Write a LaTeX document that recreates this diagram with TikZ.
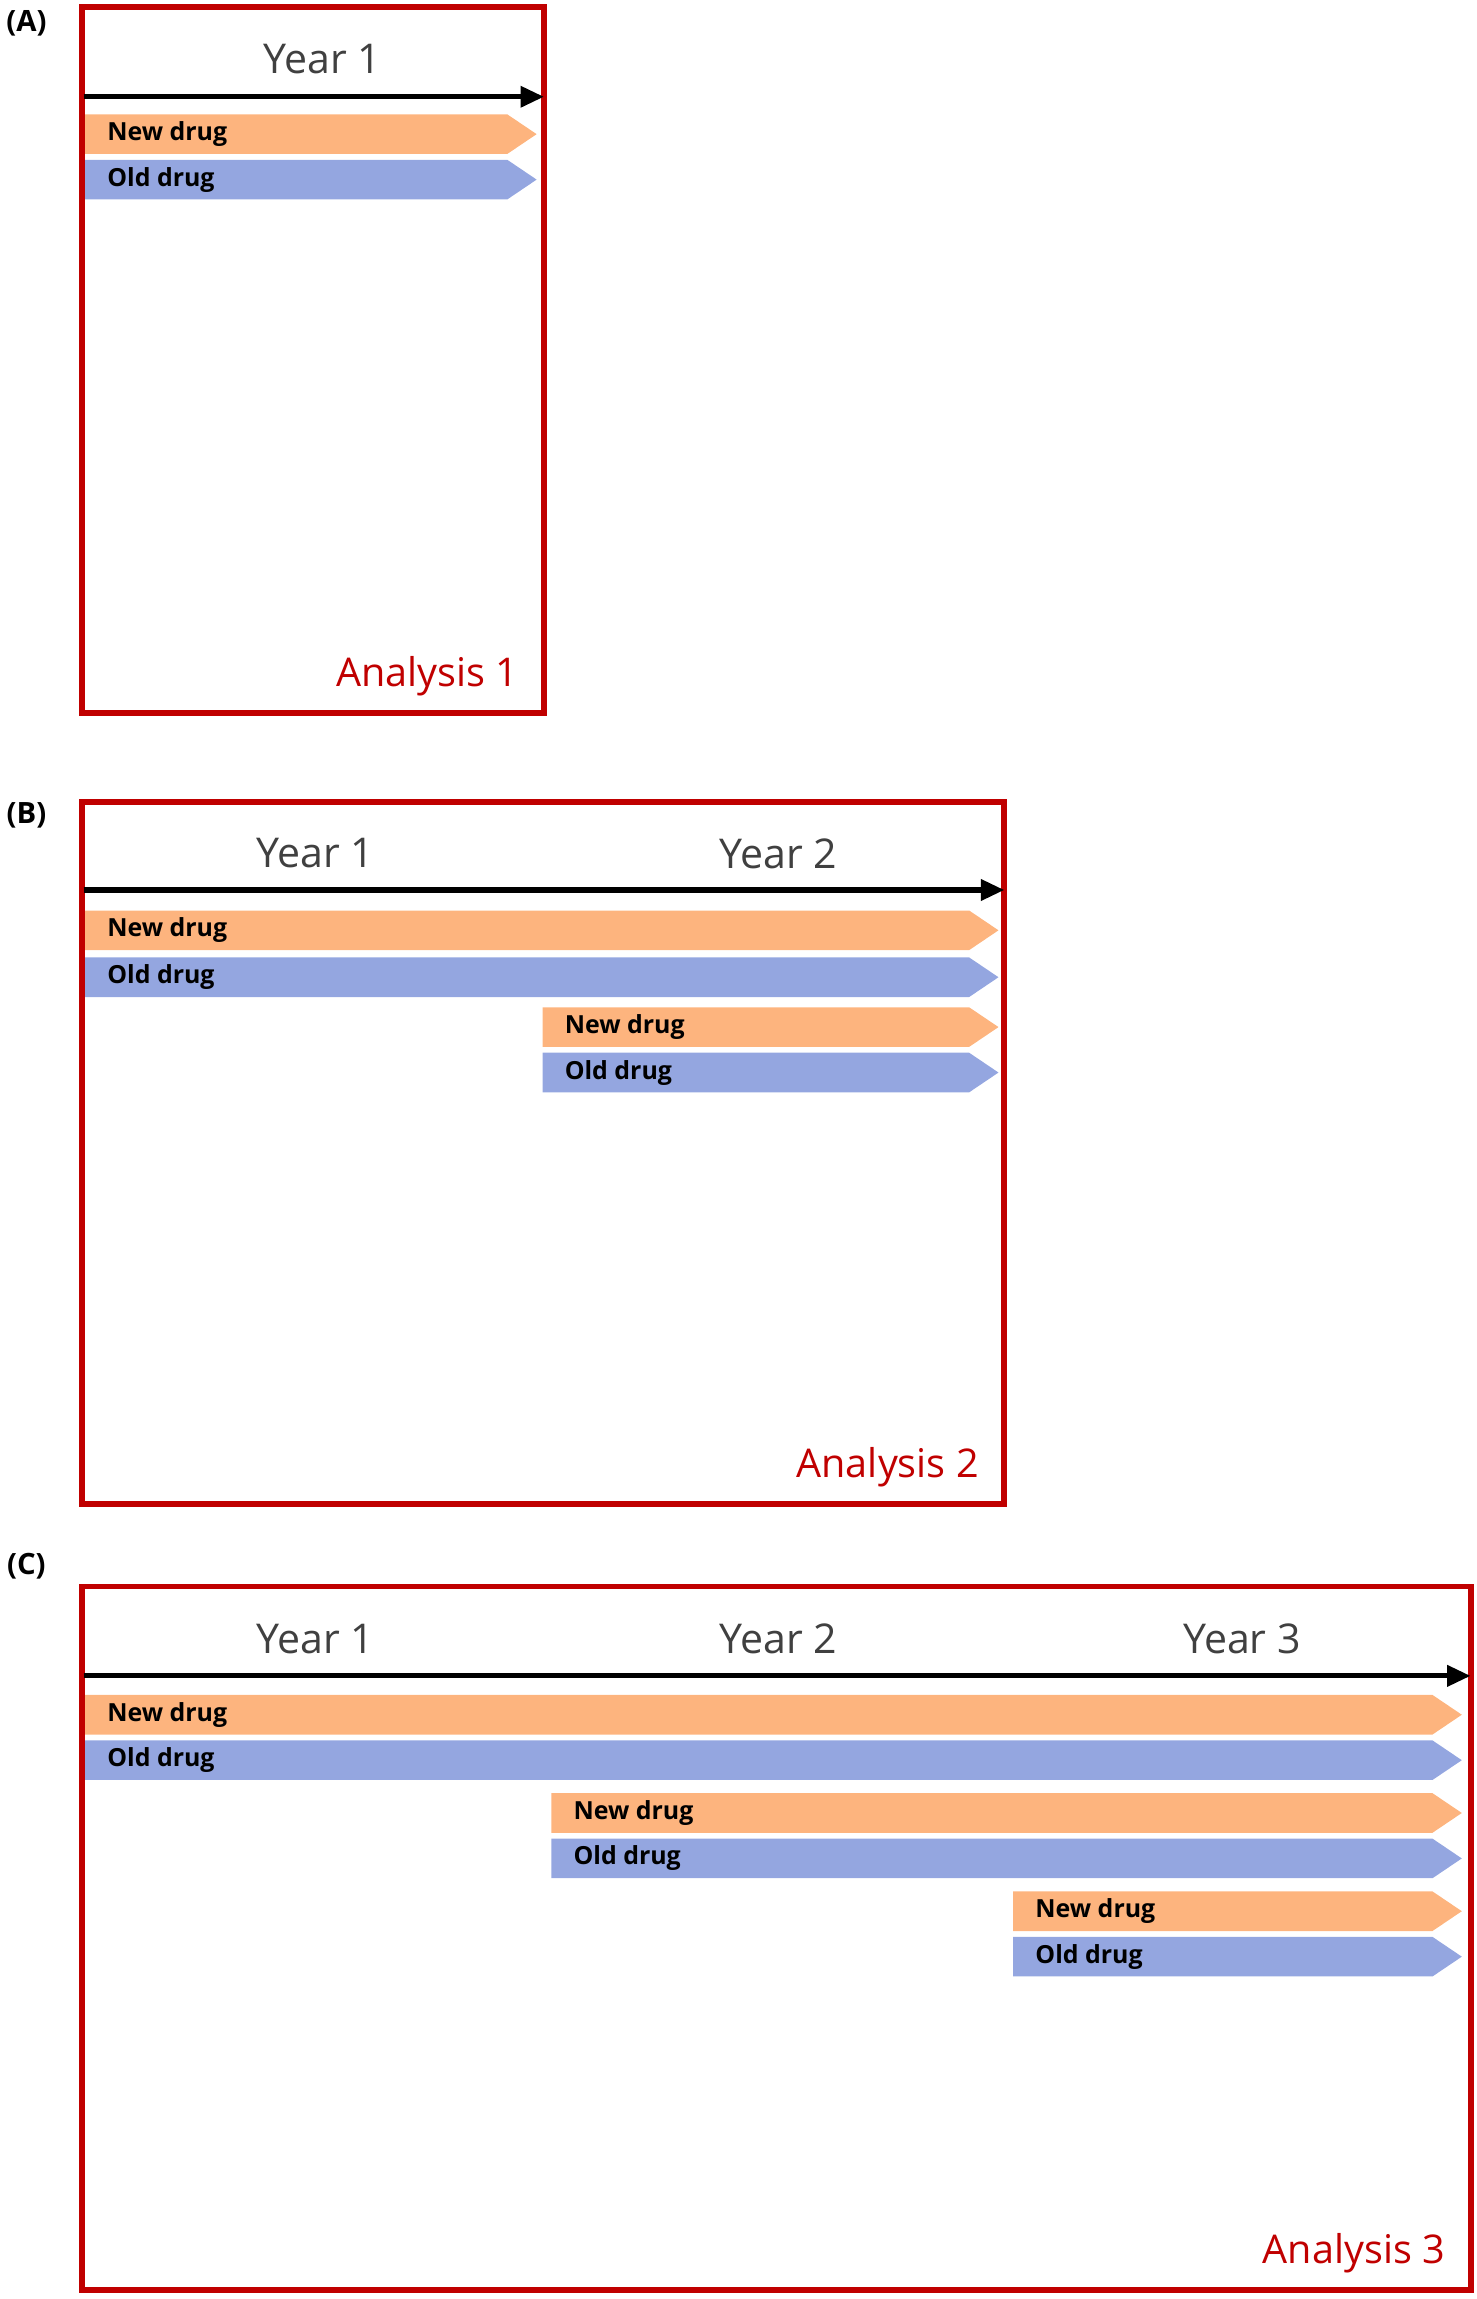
\documentclass[tikz,border=0pt]{standalone}
\usepackage{fontspec}
\setmainfont{Open Sans}
\usetikzlibrary{arrows.meta}
\definecolor{newc}{HTML}{FDB47E}
\definecolor{oldc}{HTML}{94A6E0}
\definecolor{boxred}{HTML}{C00000}
\definecolor{yeargray}{HTML}{404040}
\tikzset{
  panel/.style={draw=boxred,line width=4pt},
  yearlbl/.style={text=yeargray,font=\fontsize{28}{30}\selectfont},
  anal/.style={text=boxred,font=\fontsize{27}{29}\selectfont,anchor=south east},
  tag/.style={font=\fontsize{20}{22}\selectfont\bfseries},
  timeline/.style={line width=3.5pt,-{Triangle[length=16pt,width=14pt]}},
  barlbl/.style={font=\fontsize{17}{19}\selectfont\bfseries,anchor=west,inner sep=0pt}
}
\newcommand{\drugbar}[6]{% name, x1, x2, ytop, color, text
  \fill[#5] (#2,#4) -- (#3-20,#4) -- (#3,#4+13.5) -- (#3-20,#4+27) -- (#2,#4+27) -- cycle;
  \node[barlbl] (#1) at (#2+15,#4+13.5) {#6};
}
\begin{document}
\begin{tikzpicture}[x=1pt,y=-1pt]
\useasboundingbox (0,0) rectangle (1007,1568);
% Panel A
\node[tag] (tA) at (18,16) {(A)};
\draw[panel] (56,5) rectangle (371,486);
\node[yearlbl] (yA1) at (220,40) {Year 1};
\coordinate (sA) at (57,66); \coordinate (eA) at (371,66);
\draw[timeline] (sA) -- (eA);
\drugbar{nA1}{58}{366}{78}{newc}{New drug}
\drugbar{oA1}{58}{366}{109}{oldc}{Old drug}
\node[anal] (aA) at (357,478) {Analysis 1};
% Panel B
\node[tag] (tB) at (18,556) {(B)};
\draw[panel] (56,547) rectangle (685,1026);
\node[yearlbl] (yB1) at (215,582) {Year 1};
\node[yearlbl] (yB2) at (531,582) {Year 2};
\coordinate (sB) at (57,607); \coordinate (eB) at (685,607);
\draw[timeline] (sB) -- (eB);
\drugbar{nB1}{58}{681}{621}{newc}{New drug}
\drugbar{oB1}{58}{681}{653}{oldc}{Old drug}
\drugbar{nB2}{370}{681}{687}{newc}{New drug}
\drugbar{oB2}{370}{681}{718}{oldc}{Old drug}
\node[anal] (aB) at (671,1018) {Analysis 2};
% Panel C
\node[tag] (tC) at (18,1068) {(C)};
\draw[panel] (56,1082) rectangle (1003,1562);
\node[yearlbl] (yC1) at (215,1118) {Year 1};
\node[yearlbl] (yC2) at (531,1118) {Year 2};
\node[yearlbl] (yC3) at (847,1118) {Year 3};
\coordinate (sC) at (57,1143); \coordinate (eC) at (1003,1143);
\draw[timeline] (sC) -- (eC);
\drugbar{nC1}{58}{997}{1156}{newc}{New drug}
\drugbar{oC1}{58}{997}{1187}{oldc}{Old drug}
\drugbar{nC2}{376}{997}{1223}{newc}{New drug}
\drugbar{oC2}{376}{997}{1254}{oldc}{Old drug}
\drugbar{nC3}{691}{997}{1290}{newc}{New drug}
\drugbar{oC3}{691}{997}{1321}{oldc}{Old drug}
\node[anal] (aC) at (989,1554) {Analysis 3};
\end{tikzpicture}
\end{document}
